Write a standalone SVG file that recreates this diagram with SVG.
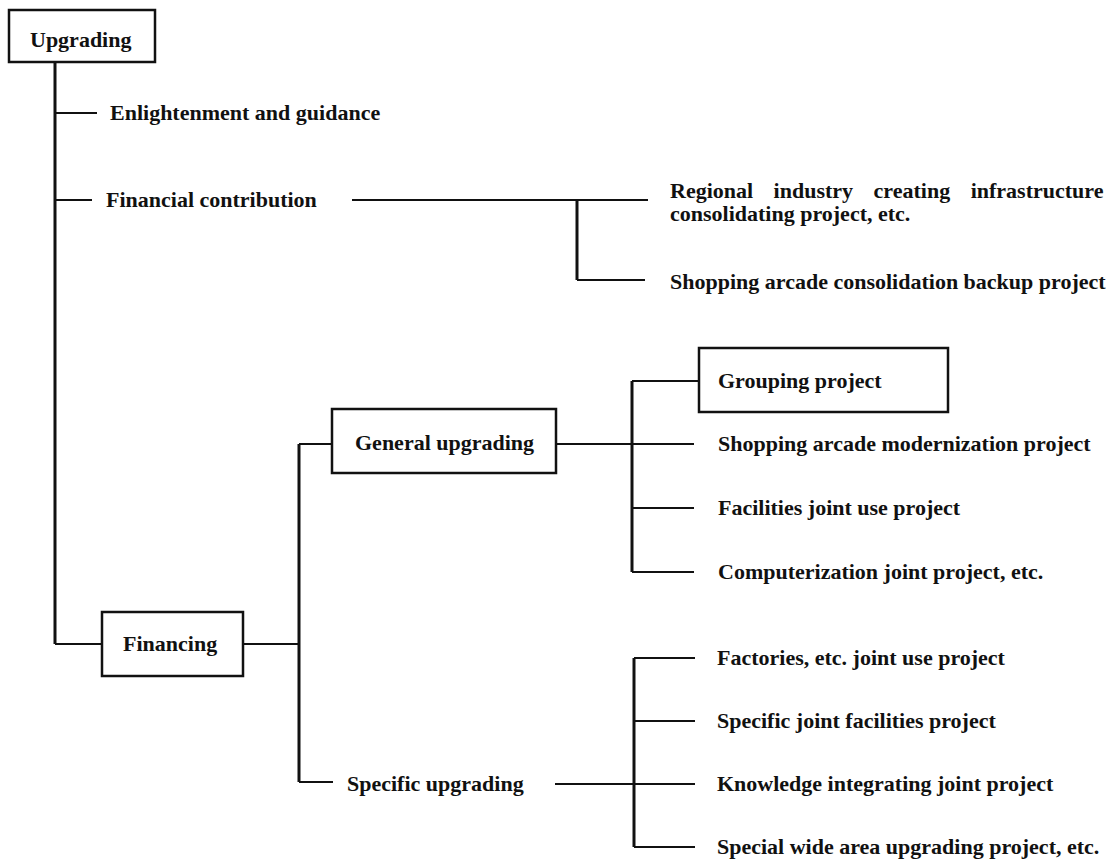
<svg xmlns="http://www.w3.org/2000/svg" width="1120" height="862" viewBox="0 0 1120 862">
<style>
text{font-family:"Liberation Serif","Times New Roman",serif;font-size:22px;font-weight:bold;fill:#111}
.box{fill:#fff;stroke:#111;stroke-width:2.5}
.trunk{stroke:#111;stroke-width:3;fill:none}
.tick{stroke:#111;stroke-width:2;fill:none}
</style>
<rect width="1120" height="862" fill="#fff"/>
<g id="connectors">
<path class="trunk" d="M55 62V644"/>
<path class="tick" d="M55 113H97M55 200H92M55 644H102M243 644H299"/>
<path class="tick" d="M352 200H648M577 280H645"/>
<path class="trunk" d="M577 200V280"/>
<path class="trunk" d="M299 444V782"/>
<path class="tick" d="M299 444H332M299 782H333"/>
<path class="tick" d="M556 444H694"/>
<path class="trunk" d="M632 381V572"/>
<path class="tick" d="M632 381H699M632 508H694M632 572H694"/>
<path class="tick" d="M555 784H695"/>
<path class="trunk" d="M634 658V847"/>
<path class="tick" d="M634 658H695M634 721H695M634 847H695"/>
</g>
<g id="upgrading"><rect class="box" x="9" y="10" width="146" height="52"/><text x="30" y="47">Upgrading</text></g>
<g id="enlightenment"><text x="110" y="120">Enlightenment and guidance</text></g>
<g id="financial-contribution"><text x="106" y="207">Financial contribution</text></g>
<g id="regional"><text x="670" y="198" word-spacing="15">Regional industry creating infrastructure</text><text x="670" y="221">consolidating project, etc.</text></g>
<g id="shopping-consolidation"><text x="670" y="289">Shopping arcade consolidation backup project</text></g>
<g id="general-upgrading"><rect class="box" x="332" y="409" width="224" height="64"/><text x="355" y="450">General upgrading</text></g>
<g id="grouping"><rect class="box" x="699" y="348" width="249" height="64"/><text x="718" y="388">Grouping project</text></g>
<g id="shopping-modernization"><text x="718" y="451">Shopping arcade modernization project</text></g>
<g id="facilities"><text x="718" y="515">Facilities joint use project</text></g>
<g id="computerization"><text x="718" y="579">Computerization joint project, etc.</text></g>
<g id="financing"><rect class="box" x="102" y="612" width="141" height="64"/><text x="123" y="651">Financing</text></g>
<g id="specific-upgrading"><text x="347" y="791">Specific upgrading</text></g>
<g id="factories"><text x="717" y="665">Factories, etc. joint use project</text></g>
<g id="specific-joint"><text x="717" y="728">Specific joint facilities project</text></g>
<g id="knowledge"><text x="717" y="791">Knowledge integrating joint project</text></g>
<g id="special"><text x="717" y="854">Special wide area upgrading project, etc.</text></g>
</svg>
